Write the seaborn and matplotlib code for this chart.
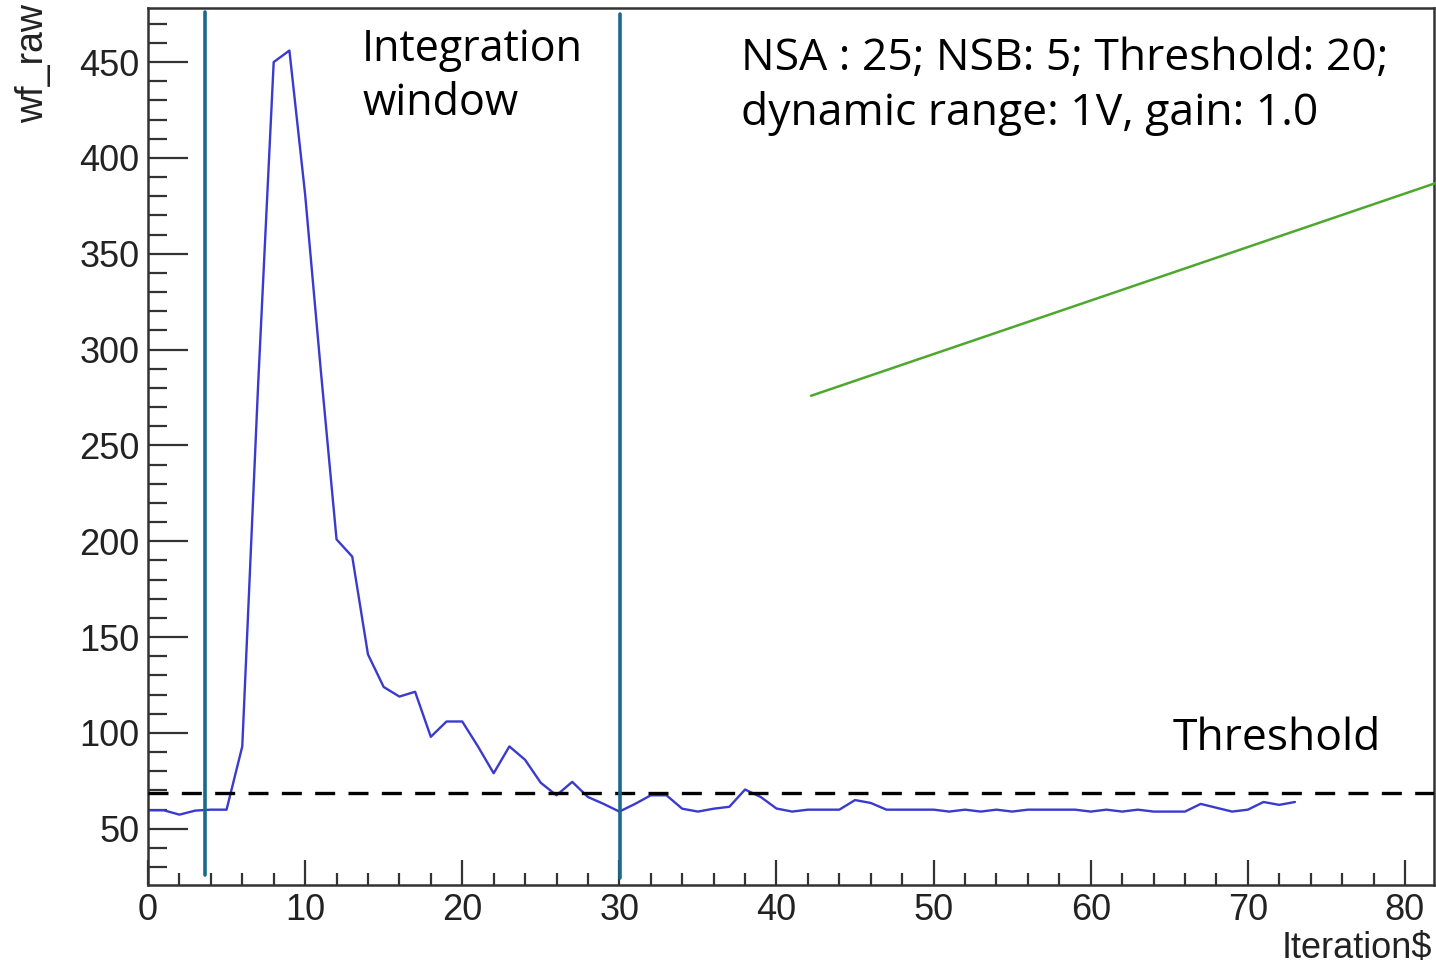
import numpy as np
import pandas as pd
import matplotlib
matplotlib.use("Agg")
import matplotlib.pyplot as plt
import seaborn as sns

# ---------------- data ----------------
iteration = list(range(74))
wf_raw = [59.7, 59.7, 57.4, 59.5, 60, 60, 93, 280, 450, 456,
          381, 289, 201, 192, 141, 124, 119, 121.5, 98, 106,
          106, 93, 79, 93, 86, 74, 67.5, 74.5, 66.6, 63,
          59, 63, 67.5, 67.5, 60.5, 59, 60.5, 61.5, 70.5, 66.6,
          60.6, 59, 60, 60, 60, 65, 63.5, 60, 60, 60,
          60, 59, 60, 59, 60, 59, 60, 60, 60, 60,
          59, 60, 59, 60, 59, 59, 59, 63, 61, 59,
          60, 64, 62.5, 64]
threshold_level = 68.7
window_edges = [3.62, 30.05]
arrow_x = [42.2, 81.97]
arrow_y = [275.9, 386.9]
x_label = "Iteration$"
y_label = "wf_raw"
window_text = "Integration\nwindow"
config_text = "NSA : 25; NSB: 5; Threshold: 20;\ndynamic range: 1V, gain: 1.0"
threshold_text = "Threshold"

df = pd.DataFrame({"Iteration$": iteration, "wf_raw": wf_raw})

# ---------------- style ----------------
sns.set_theme(style="white")
plt.rcParams["font.family"] = ["Liberation Sans", "DejaVu Sans"]

W, H = 1436, 967
fig = plt.figure(figsize=(W / 100, H / 100), dpi=100)
L, R, T, B = 148, 1434, 8, 885
ax = fig.add_axes([L / W, 1 - B / H, (R - L) / W, (B - T) / H])

sns.lineplot(data=df, x="Iteration$", y="wf_raw", ax=ax, color="#3a3acf",
             linewidth=1.7, estimator=None, sort=False)

ax.set_xlim(0, 81.85)
ax.set_ylim(20.7, 478.2)

# threshold & window lines
ax.axhline(threshold_level, color="black", linewidth=2.4,
           linestyle=(0, (6, 4)), zorder=3)
ax.axvline(window_edges[0], ymin=(B - 875) / (B - T), ymax=(B - 12) / (B - T),
           color="#1b6a8c", linewidth=2.6, zorder=4)
ax.axvline(window_edges[1], ymin=(B - 878) / (B - T), ymax=(B - 14) / (B - T),
           color="#1b6a8c", linewidth=2.6, zorder=4)
ax.plot(arrow_x, arrow_y, color="#4ea72e", linewidth=1.8, clip_on=False, zorder=5)

# ticks
ax.set_xticks(np.arange(0, 81, 10))
ax.set_xticks(np.arange(0, 81, 2), minor=True)
ax.set_yticks(np.arange(50, 451, 50))
ax.set_yticks(np.arange(30, 471, 10), minor=True)
ax.tick_params(axis="both", which="both", direction="in", colors="#333333",
               labelcolor="#222222", labelsize=26, width=1.6,
               bottom=True, left=True, top=False, right=False)
ax.tick_params(axis="y", which="major", length=29, pad=6)
ax.tick_params(axis="y", which="minor", length=14)
ax.tick_params(axis="x", which="major", length=18, pad=6)
ax.tick_params(axis="x", which="minor", length=9)

for s in ax.spines.values():
    s.set_color("#333333")
    s.set_linewidth(1.8)

ax.set_xlabel(x_label, fontsize=26, color="#222222", loc="right")
ax.set_ylabel(y_label, fontsize=27, color="#222222", loc="top")
ax.xaxis.set_label_coords((1432 - L) / (R - L), -(931 - B) / (B - T))
ax.yaxis.set_label_coords(-(L - 51) / (R - L), 1 + (T - 4) / (B - T))

# annotation texts
tfont = ["Open Sans", "DejaVu Sans"]
fig.text(362 / W, 1 - 27 / H, window_text, fontsize=31, family=tfont,
         color="black", va="top", ha="left", linespacing=1.3)
fig.text(741 / W, 1 - 37 / H, config_text, fontsize=32, family=tfont,
         color="black", va="top", ha="left", linespacing=1.28)
fig.text(1173 / W, 1 - 716 / H, threshold_text, fontsize=32, family=tfont,
         color="black", va="top", ha="left")

fig.savefig("out.png", dpi=100, facecolor="white")
